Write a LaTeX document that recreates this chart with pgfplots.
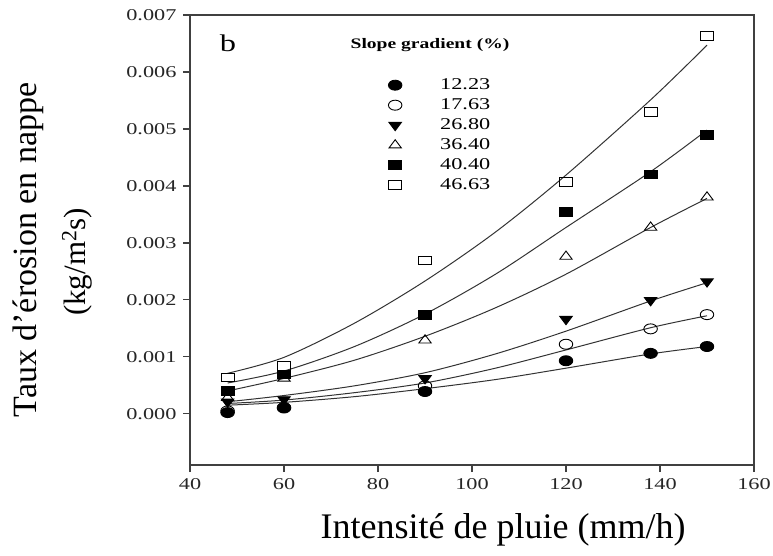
\documentclass[border=0pt]{standalone}
\usepackage{fontspec}
\setmainfont{Liberation Serif}
\newfontfamily\wideserif[FakeStretch=1.35]{Liberation Serif}
\usepackage{pgfplots}
\pgfplotsset{compat=1.18}
\begin{document}
\begin{tikzpicture}[x=1pt,y=1pt]
\useasboundingbox (0,0) rectangle (773,555);
\begin{axis}[
  at={(190pt,90pt)}, anchor=south west,
  scale only axis, width=564pt, height=450pt,
  xmin=40, xmax=160, ymin=-0.0009, ymax=0.007,
  xtick={40,60,80,100,120,140,160},
  ytick={0,0.001,0.002,0.003,0.004,0.005,0.006,0.007},
  tick pos=left, tick align=outside, major tick length=7pt,
  axis line style={line width=1.6pt, black!75},
  every tick/.style={line width=1.3pt, black!75},
  scaled y ticks=false,
  ticklabel style={font=\wideserif\fontsize{16.5}{16.5}\selectfont, text=black!85},
  xticklabel style={yshift=-3pt},
  yticklabel style={xshift=-3pt, /pgf/number format/.cd, fixed, fixed zerofill, precision=3, assume math mode=true},
  /pgf/number format/assume math mode=true,
  legend style={at={(0.3457,0.8667)}, anchor=north west, draw=none, fill=none,
    inner sep=0pt, column sep=33pt, row sep=0pt,
    font=\wideserif\fontsize{16.5}{16.5}\selectfont},
  legend cell align=left,
  legend image code/.code={\path[draw=none,fill=none] (0pt,-10pt) rectangle (20pt,10pt);
     \draw[#1] plot coordinates {(10pt,0pt)};},
]
% fitted curves
\addplot[smooth, line width=1pt, black!80, forget plot] coordinates {(48,0.00015)(60,0.0002)(75,0.0003)(90,0.00044)(105,0.0006)(120,0.0008)(138,0.00105)(150,0.00118)};
\addplot[smooth, line width=1pt, black!80, forget plot] coordinates {(48,0.00018)(60,0.00024)(75,0.00037)(90,0.00054)(105,0.0008)(120,0.00112)(138,0.00151)(150,0.00172)};
\addplot[smooth, line width=1pt, black!80, forget plot] coordinates {(48,0.00021)(60,0.00032)(75,0.00049)(90,0.00072)(105,0.00105)(120,0.00145)(138,0.00198)(150,0.0023)};
\addplot[smooth, line width=1pt, black!80, forget plot] coordinates {(48,0.00040)(60,0.00062)(75,0.00094)(90,0.00136)(105,0.00186)(120,0.00245)(138,0.00327)(150,0.00378)};
\addplot[smooth, line width=1pt, black!80, forget plot] coordinates {(48,0.00054)(60,0.00075)(75,0.00118)(90,0.00175)(105,0.00245)(120,0.00327)(138,0.00425)(150,0.00498)};
\addplot[smooth, line width=1pt, black!80, forget plot] coordinates {(48,0.00071)(60,0.00099)(75,0.00159)(90,0.00233)(105,0.00319)(120,0.00419)(138,0.00551)(150,0.00647)};
% data points
\addplot[only marks, mark=*, mark size=5pt, mark options={draw=black, fill=black, xscale=1.35, line width=0.9pt}]
 coordinates {(48,0.00002)(60,0.0001)(90,0.00039)(120,0.00093)(138,0.00106)(150,0.00118)};
\addlegendentry{12.23}
\addplot[only marks, mark=o, mark size=5pt, mark options={draw=black, fill=white, xscale=1.35, line width=0.9pt}]
 coordinates {(48,0.00005)(60,0.00011)(90,0.00049)(120,0.00122)(138,0.00149)(150,0.00174)};
\addlegendentry{17.63}
\addplot[only marks, mark=triangle*, mark size=5.5pt, mark options={draw=black, fill=black, rotate=180, xscale=1.3, line width=0.9pt}]
 coordinates {(48,0.00021)(60,0.00025)(90,0.00062)(120,0.00166)(138,0.00199)(150,0.00232)};
\addlegendentry{26.80}
\addplot[only marks, mark=triangle, mark size=5.5pt, mark options={draw=black, fill=white, xscale=1.3, line width=0.9pt}]
 coordinates {(48,0.00028)(60,0.00062)(90,0.00129)(120,0.00276)(138,0.00327)(150,0.0038)};
\addlegendentry{36.40}
\addplot[only marks, mark=square*, mark size=4.3pt, mark options={draw=black, fill=black, xscale=1.5, line width=0.9pt}]
 coordinates {(48,0.0004)(60,0.00069)(90,0.00173)(120,0.00354)(138,0.0042)(150,0.00489)};
\addlegendentry{40.40}
\addplot[only marks, mark=square, mark size=4.3pt, mark options={draw=black, fill=white, xscale=1.5, line width=0.9pt}]
 coordinates {(48,0.00064)(60,0.00084)(90,0.00269)(120,0.00407)(138,0.0053)(150,0.00663)};
\addlegendentry{46.63}
\end{axis}
\node[font=\wideserif\bfseries\fontsize{14.5}{14.5}\selectfont] at (430,510) {Slope gradient (\%)};
\node[font=\wideserif\fontsize{24}{24}\selectfont] at (228,512) {b};
\node[rotate=90, font=\fontsize{34}{34}\selectfont] at (28,305) {Taux d’érosion en nappe};
\node[rotate=90, font=\fontsize{31}{31}\selectfont] at (77,293) {(kg/m\textsuperscript{2}s)};
\node[font=\fontsize{36}{36}\selectfont] at (503,25) {Intensité de pluie (mm/h)};
\end{tikzpicture}
\end{document}
